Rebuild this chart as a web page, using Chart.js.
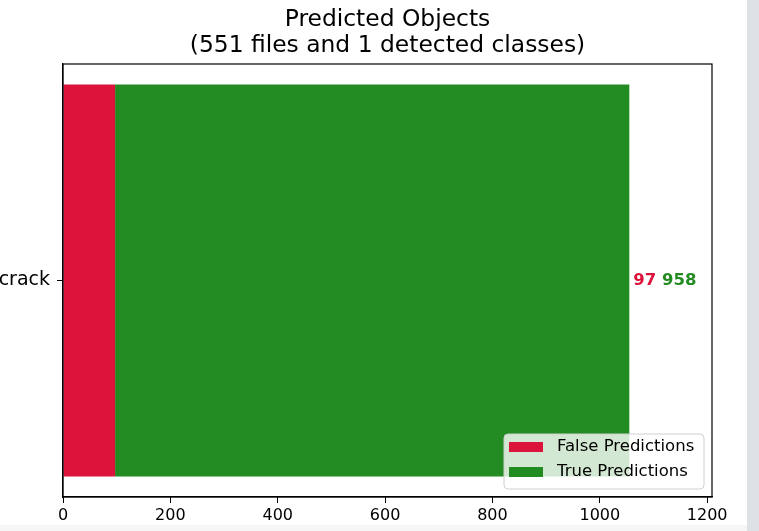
<!DOCTYPE html>
<html>
<head>
<meta charset="utf-8">
<script src="https://cdn.jsdelivr.net/npm/chart.js@4"></script>
<style>
  html, body { margin: 0; padding: 0; background: #fff; }
  canvas { display: block; }
</style>
</head>
<body>
<canvas id="myChart" width="759" height="531"></canvas>
<script>
var classes = ["crack"];
var falseCounts = [97];
var trueCounts = [958];
var seriesNames = ["False Predictions", "True Predictions"];
var barColors = ["#DC143C", "#228B22"];
var xTicks = [0, 200, 400, 600, 800, 1000, 1200];
var xMax = 1209;
var titleLines = ["Predicted Objects", "(551 files and 1 detected classes)"];

var FONT = "'DejaVu Sans', sans-serif";

// frame, title, value labels and legend drawn like matplotlib
var extras = {
  id: "extras",
  beforeDraw: function (chart) {
    var c = chart.ctx;
    c.save();
    c.fillStyle = "#fff";
    c.fillRect(0, 0, chart.width, chart.height);
    c.fillStyle = "#f6f6f6";
    c.fillRect(0, 525, chart.width, 6);
    c.fillStyle = "#dfe2e5";
    c.fillRect(747, 0, chart.width - 747, chart.height);
    c.restore();
  },
  afterDraw: function (chart) {
    var c = chart.ctx;
    var a = chart.chartArea;
    var xs = chart.scales.x, ys = chart.scales.y;
    c.save();
    // frame
    c.strokeStyle = "#000";
    c.lineWidth = 1.2;
    c.strokeRect(a.left, a.top, a.right - a.left, a.bottom - a.top);
    // title
    c.fillStyle = "#000";
    c.font = "23.4px " + FONT;
    c.textAlign = "center";
    c.textBaseline = "middle";
    var cx = (a.left + a.right) / 2;
    c.fillText(titleLines[0], cx, 20);
    c.fillText(titleLines[1], cx, 46);
    // value labels
    c.font = "bold 16.5px " + FONT;
    c.textAlign = "left";
    classes.forEach(function (name, i) {
      var total = falseCounts[i] + trueCounts[i];
      var x = xs.getPixelForValue(total) + 4;
      var y = ys.getPixelForValue(i);
      c.fillStyle = barColors[0];
      var s1 = String(falseCounts[i]);
      c.fillText(s1, x, y);
      x += c.measureText(s1 + " ").width;
      c.fillStyle = barColors[1];
      c.fillText(String(trueCounts[i]), x, y);
    });
    // legend
    var bx = 504, by = 434, bw = 200, bh = 55;
    c.beginPath();
    c.roundRect(bx, by, bw, bh, 4);
    c.fillStyle = "rgba(255,255,255,0.8)";
    c.fill();
    c.strokeStyle = "#d0d0d0";
    c.lineWidth = 1;
    c.stroke();
    c.font = "16.5px " + FONT;
    seriesNames.forEach(function (n, k) {
      var yy = by + 8 + k * 25;
      c.fillStyle = barColors[k];
      c.fillRect(bx + 5, yy, 34, 10);
      c.fillStyle = "#000";
      c.textBaseline = "middle";
      c.fillText(n, bx + 53, yy + 5);
    });
    c.restore();
  }
};

new Chart("myChart", {
  type: "bar",
  data: {
    labels: classes,
    datasets: [{
      label: seriesNames[0],
      data: falseCounts,
      backgroundColor: barColors[0]
    }, {
      label: seriesNames[1],
      data: trueCounts,
      backgroundColor: barColors[1]
    }]
  },
  options: {
    indexAxis: "y",
    responsive: false,
    animation: false,
    devicePixelRatio: 1,
    barPercentage: 0.905,
    categoryPercentage: 1,
    layout: { padding: { top: 64, right: 47, left: 0, bottom: 0 } },
    plugins: {
      legend: { display: false },
      title: { display: false },
      tooltip: { enabled: false }
    },
    scales: {
      x: {
        stacked: true,
        min: 0,
        max: xMax,
        afterBuildTicks: function (s) {
          s.ticks = xTicks.map(function (v) { return { value: v }; });
        },
        afterFit: function (s) { s.height = 34; },
        grid: { drawOnChartArea: false, drawTicks: true, tickLength: 6, color: "#000" },
        border: { display: true, color: "#000", width: 1.2 },
        ticks: {
          color: "#000", font: { family: FONT, size: 16 }, padding: 3, maxRotation: 0,
          callback: function (v) { return String(v); }
        }
      },
      y: {
        stacked: true,
        afterFit: function (s) { s.width = 63; },
        grid: { drawOnChartArea: false, drawTicks: true, tickLength: 6, color: "#000", offset: false },
        border: { display: true, color: "#000", width: 1.2 },
        ticks: { color: "#000", font: { family: FONT, size: 19 }, padding: 7 }
      }
    }
  },
  plugins: [extras]
});
</script>
</body>
</html>
